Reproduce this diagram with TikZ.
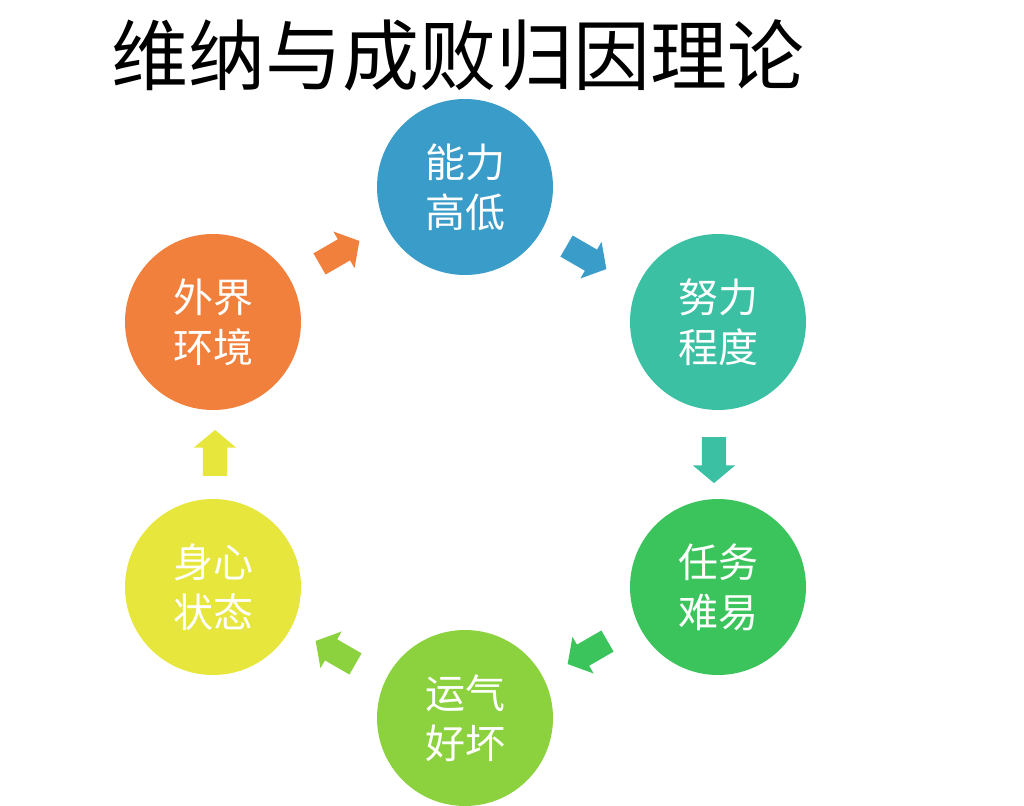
\documentclass[tikz,border=0pt]{standalone}
\usepackage{fontspec}
\newfontfamily\cjk{Noto Sans CJK SC}
\usetikzlibrary{shapes.arrows}
\definecolor{cA}{HTML}{3A9CC8}
\definecolor{cB}{HTML}{3CC0A4}
\definecolor{cC}{HTML}{3CC45C}
\definecolor{cD}{HTML}{8CD23E}
\definecolor{cE}{HTML}{E6E63C}
\definecolor{cF}{HTML}{F0803C}
\tikzset{
  ring/.style={circle,minimum size=176pt,inner sep=0pt,fill=#1,text=white,font=\cjk\fontsize{40}{50}\selectfont,align=center},
  blk/.style={single arrow,fill=#1,minimum height=46pt,minimum width=0pt,inner xsep=0pt,inner ysep=12pt,single arrow head extend=9pt,single arrow tip angle=100}
}
\begin{document}
\begin{tikzpicture}[x=1pt,y=-1pt]
\useasboundingbox (0,0) rectangle (1024,805);
\node[font=\cjk\fontsize{77}{80}\selectfont] (t) at (458,55) {维纳与成败归因理论};
\node[ring=cA] (a) at (465,187) {能力\\高低};
\node[ring=cB] (b) at (718,322) {努力\\程度};
\node[ring=cC] (c) at (718,587) {任务\\难易};
\node[ring=cD] (d) at (465,718) {运气\\好坏};
\node[ring=cE] (e) at (213,587) {身心\\状态};
\node[ring=cF] (f) at (213,322) {外界\\环境};
\node[blk=cA,rotate=-30] (ab) at (582,255) {};
\node[blk=cB,rotate=-90] (bc) at (714,455) {};
\node[blk=cC,rotate=-150] (cd) at (592,650) {};
\node[blk=cD,rotate=150] (de) at (340,655) {};
\node[blk=cE,rotate=90] (ef) at (215,458) {};
\node[blk=cF,rotate=30] (fa) at (335,255) {};
\end{tikzpicture}
\end{document}
